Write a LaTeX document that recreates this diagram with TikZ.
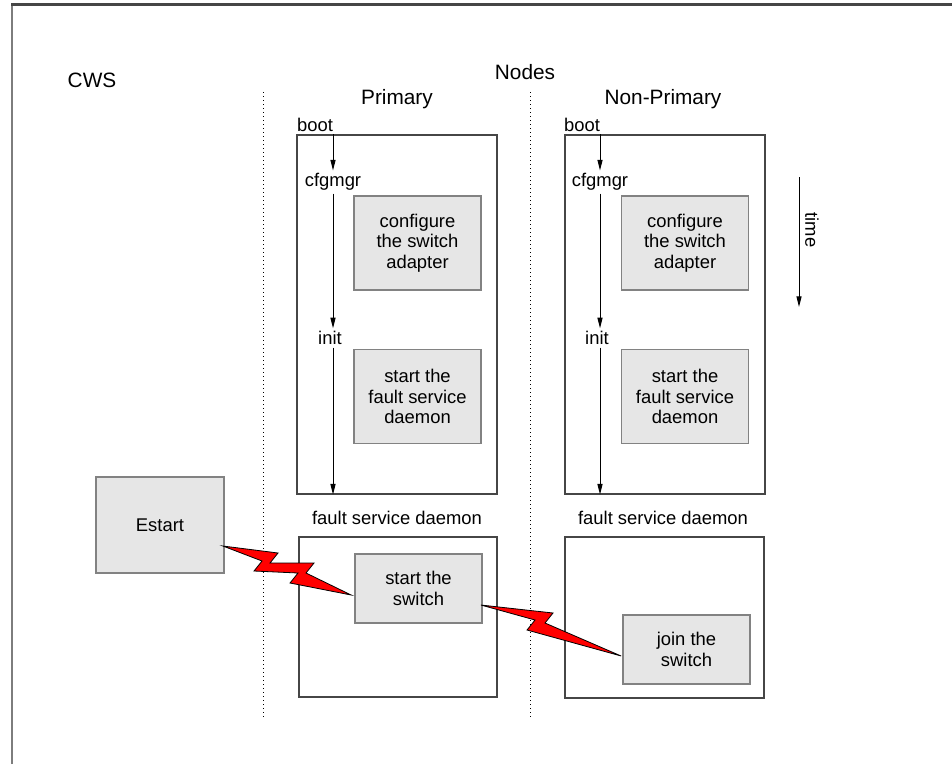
\documentclass[tikz,border=0pt]{standalone}
\usepackage{fontspec}
\setmainfont{Liberation Sans}
\usetikzlibrary{arrows.meta,calc}

\definecolor{boxfill}{RGB}{230,230,230}
\definecolor{boxedge}{RGB}{130,130,130}
\definecolor{frameedge}{RGB}{70,70,70}
\definecolor{framegray}{RGB}{125,125,125}
\definecolor{boltred}{RGB}{255,0,0}

\tikzset{
  body/.style={font=\fontsize{13.8}{15.5}\selectfont, align=center, inner sep=2pt},
  title/.style={font=\fontsize{15.6}{18}\selectfont, inner sep=0pt},
  outerbox/.style={draw=frameedge, line width=0.9pt, rectangle, inner sep=0pt},
  taskbox/.style={body, draw=boxedge, fill=boxfill, line width=1.3pt, rectangle,
    minimum width=95.25pt},
  flow/.style={line width=0.75pt, -{Triangle[length=8pt,width=3.8pt]}},
  divider/.style={line width=0.7pt, dash pattern=on 1pt off 2pt},
  bolt/.style={fill=boltred, draw=black, line width=0.6pt, line join=miter}
}

\begin{document}
\begin{tikzpicture}[x=0.75pt, y=-0.75pt]
\useasboundingbox (0,0) rectangle (952,764);

% page frame (top and left edges only)
\draw[framegray, line width=1.6pt] (12,764) -- (12,4.5);
\draw[frameedge, line width=1.6pt] (11.2,4.5) -- (952,4.5);

% headings
\node[title] (cws) at (92,80) {CWS};
\node[title] (nodes) at (525,72) {Nodes};
\node[title] (prim) at (397,99) {Primary};
\node[title] (nonprim) at (663,99) {Non-Primary};

% column dividers
\draw[divider] (263,92) -- (263,718);
\draw[divider] (530,92) -- (530,718);

% ---------- primary node ----------
\node[outerbox, minimum width=150pt, minimum height=269.25pt] (topP) at (397,314.5) {};
\node[outerbox, minimum width=148.5pt, minimum height=120pt] (botP) at (398,617) {};
\node[body] (bootP) at (315,125) {boot};
\node[body] (cfgmgrP) at (333,182) {cfgmgr};
\node[body] (initP) at (330,338) {init};
\node[taskbox, minimum height=70.5pt] (cfgP) at (417.5,243) {configure\\the switch\\adapter};
\node[taskbox, minimum height=70.5pt] (fsdP) at (417.5,396.5) {start the\\fault service\\daemon};
\node[body] (fsdlabP) at (397,518) {fault service daemon};
\node[taskbox, minimum height=51.75pt] (startSw) at (418.5,588.5) {start the\\switch};

\draw[flow] (cfgmgrP.north |- topP.north) -- (cfgmgrP.north);
\draw[flow] (cfgmgrP.south) -- (cfgmgrP.south |- initP.north);
\draw[flow] (cfgmgrP.south |- initP.south) -- (cfgmgrP.south |- topP.south);

% ---------- non-primary node ----------
\node[outerbox, minimum width=150pt, minimum height=269.25pt] (topN) at (665,314.5) {};
\node[outerbox, minimum width=149.25pt, minimum height=120.75pt] (botN) at (664.5,617.5) {};
\node[body] (bootN) at (582,125) {boot};
\node[body] (cfgmgrN) at (600,182) {cfgmgr};
\node[body] (initN) at (597,338) {init};
\node[taskbox, minimum height=70.5pt] (cfgN) at (685,243) {configure\\the switch\\adapter};
\node[taskbox, minimum height=70.5pt] (fsdN) at (685,396.5) {start the\\fault service\\daemon};
\node[body] (fsdlabN) at (663,518) {fault service daemon};
\node[taskbox, minimum height=51.75pt] (joinSw) at (686.5,649.5) {join the\\switch};

\draw[flow] (cfgmgrN.north |- topN.north) -- (cfgmgrN.north);
\draw[flow] (cfgmgrN.south) -- (cfgmgrN.south |- initN.north);
\draw[flow] (cfgmgrN.south |- initN.south) -- (cfgmgrN.south |- topN.south);

% ---------- control workstation ----------
\node[taskbox, minimum width=96pt, minimum height=72pt] (estart) at (160,525) {Estart};

% ---------- time axis ----------
\coordinate (tTop) at (799,177);
\coordinate (tBot) at (799,307);
\draw[flow] (tTop) -- (tBot);
\node[body, rotate=-90] (timelab) at (812,230) {time};

% ---------- lightning connectors ----------
\coordinate (b1s) at ($(estart.east)+(-2,21)$);
\coordinate (b1e) at ($(startSw.west)+(-3,6.5)$);
\filldraw[bolt] (b1s) -- (278,553) -- (270,563) -- (314,563) -- (306,573)
  -- (b1e) -- (290,583) -- (298,573) -- (254,571) -- (262,561) -- cycle;

\coordinate (b2s) at ($(startSw.east)+(-2,16.5)$);
\coordinate (b2e) at ($(joinSw.west)+(-1,6.5)$);
\filldraw[bolt] (b2s) -- (553,613) -- (545,623) -- (b2e)
  -- (527,630) -- (535,620) -- cycle;

\end{tikzpicture}
\end{document}
